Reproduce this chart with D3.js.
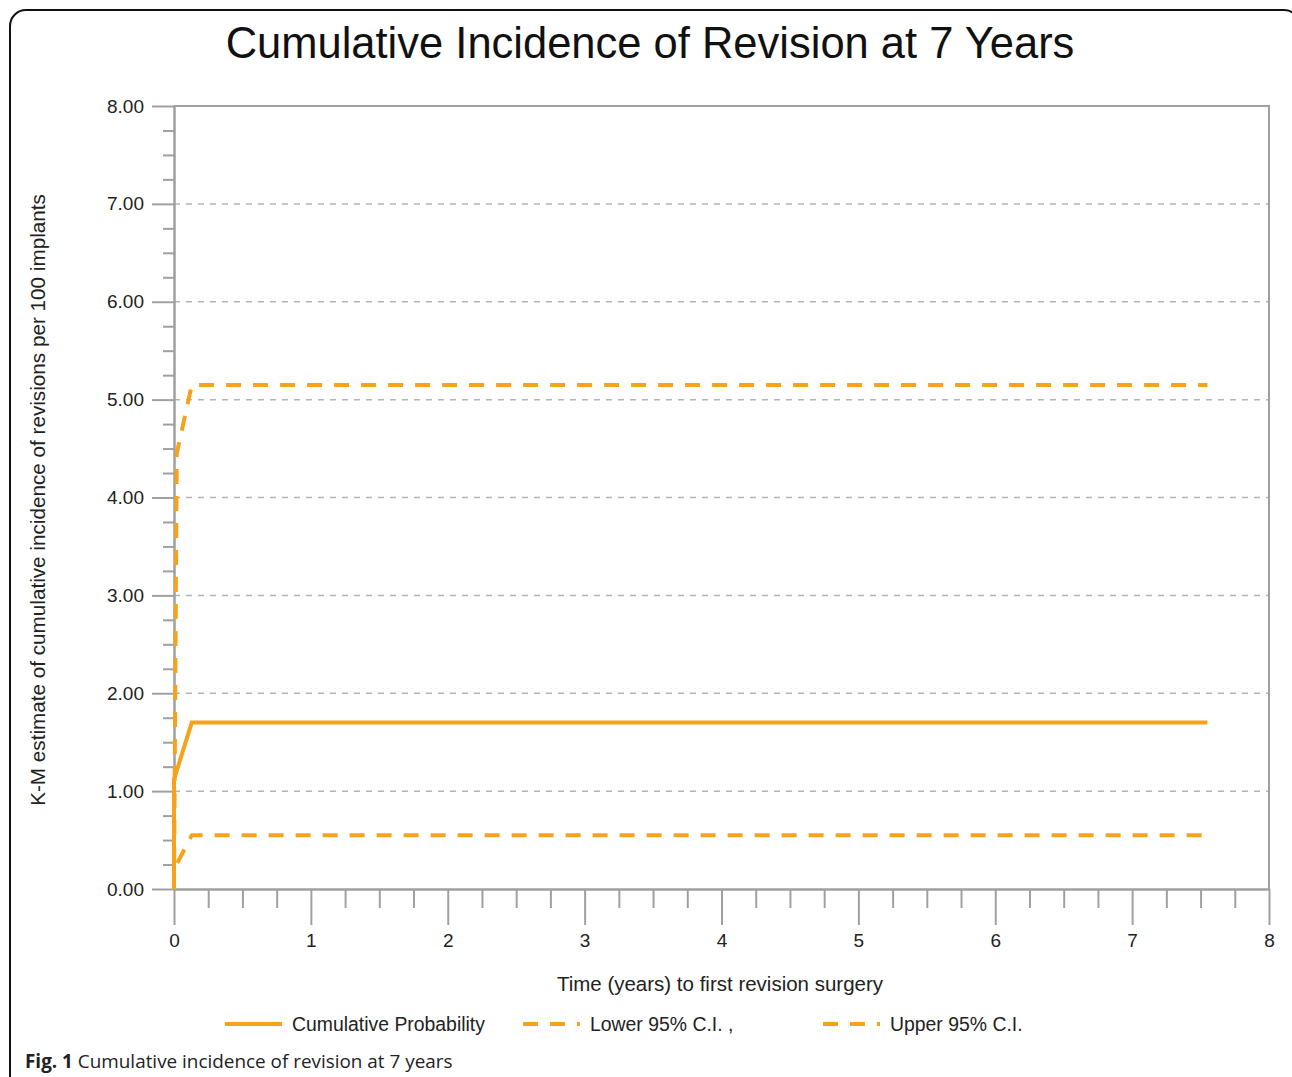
<!DOCTYPE html>
<html>
<head>
<meta charset="utf-8">
<script src="https://cdn.jsdelivr.net/npm/d3@7"></script>
<style>
  html, body { margin: 0; padding: 0; background: #fff; }
  svg { display: block; }
</style>
</head>
<body>
<svg id="chart" width="1292" height="1077"></svg>
<script>
// Kaplan-Meier cumulative incidence of revision (per 100 implants)
const cumulativeTime  = [0, 0, 0.13, 7.55];
const cumulativeValue = [0, 1.12, 1.70, 1.70];
const lowerTime  = [0, 0, 0.13, 7.55];
const lowerValue = [0, 0.20, 0.55, 0.55];
const upperTime  = [0, 0.02, 0.13, 7.55];
const upperValue = [0, 4.45, 5.15, 5.15];

const xTicks = [0, 1, 2, 3, 4, 5, 6, 7, 8];
const yTicks = [0, 1, 2, 3, 4, 5, 6, 7, 8];
const gridValues = [1, 2, 3, 4, 5, 6, 7];
const seriesNames = ["Cumulative Probability", "Lower 95% C.I. ,", "Upper 95% C.I."];

const ORANGE = "#f7a21b";
const AXIS = "#a0a0a0";

const svg = d3.select("#chart");

// outer figure frame
svg.append("rect")
  .attr("x", 10).attr("y", 10)
  .attr("width", 1290).attr("height", 1100)
  .attr("rx", 16).attr("ry", 16)
  .attr("fill", "none").attr("stroke", "#111").attr("stroke-width", 2);

// title
svg.append("text")
  .attr("x", 650).attr("y", 58)
  .attr("text-anchor", "middle")
  .attr("font-family", "Liberation Sans, Arial, sans-serif")
  .attr("font-size", 43.5)
  .attr("fill", "#111")
  .text("Cumulative Incidence of Revision at 7 Years");

const x = d3.scaleLinear().domain([0, 8]).range([174, 1269]);
const y = d3.scaleLinear().domain([0, 8]).range([889, 106]);

// horizontal dashed grid
svg.append("g").selectAll("line")
  .data(gridValues).join("line")
  .attr("x1", x(0)).attr("x2", x(8))
  .attr("y1", d => y(d)).attr("y2", d => y(d))
  .attr("stroke", "#b4b4b4").attr("stroke-width", 1.5)
  .attr("stroke-dasharray", "6,6");

// plot frame: top and right edges
svg.append("path")
  .attr("d", `M${x(0)},${y(8)}H${x(8)}V${y(0)}`)
  .attr("fill", "none").attr("stroke", AXIS).attr("stroke-width", 2);

const fontAxis = "Liberation Sans, Arial, sans-serif";

function styleAxis(g) {
  g.select(".domain").attr("stroke", AXIS).attr("stroke-width", 2);
  g.selectAll(".tick line").attr("stroke", AXIS).attr("stroke-width", 2);
  g.selectAll(".tick text")
    .attr("fill", "#222")
    .attr("font-family", fontAxis)
    .attr("font-size", 19);
}

// minor ticks every 0.25
const minor = d3.range(0, 8.001, 0.25).filter(v => Math.abs(v - Math.round(v)) > 1e-9);

svg.append("g")
  .attr("transform", `translate(${x(0)},0)`)
  .call(d3.axisLeft(y).tickValues(minor).tickSize(11).tickSizeOuter(0).tickFormat(""))
  .call(styleAxis);
svg.append("g")
  .attr("transform", `translate(0,${y(0)})`)
  .call(d3.axisBottom(x).tickValues(minor).tickSize(19).tickSizeOuter(0).tickFormat(""))
  .call(styleAxis);

// major ticks with labels
svg.append("g")
  .attr("transform", `translate(${x(0)},0)`)
  .call(d3.axisLeft(y).tickValues(yTicks).tickSize(22).tickSizeOuter(0)
    .tickPadding(8).tickFormat(d3.format(".2f")))
  .call(styleAxis);
svg.append("g")
  .attr("transform", `translate(0,${y(0)})`)
  .call(d3.axisBottom(x).tickValues(xTicks).tickSize(36).tickSizeOuter(0)
    .tickPadding(9).tickFormat(d3.format("d")))
  .call(styleAxis);

// axis titles
svg.append("text")
  .attr("x", 720).attr("y", 991)
  .attr("text-anchor", "middle")
  .attr("font-family", fontAxis).attr("font-size", 20.5).attr("fill", "#222")
  .text("Time (years) to first revision surgery");

svg.append("text")
  .attr("transform", "translate(45,500) rotate(-90)")
  .attr("text-anchor", "middle")
  .attr("font-family", fontAxis).attr("font-size", 20.7).attr("fill", "#222")
  .text("K-M estimate of cumulative incidence of revisions per 100 implants");

// series
const line = d3.line().x(d => x(d[0])).y(d => y(d[1]));
const series = [
  { pts: d3.zip(cumulativeTime, cumulativeValue), dash: null },
  { pts: d3.zip(lowerTime, lowerValue), dash: "15,12" },
  { pts: d3.zip(upperTime, upperValue), dash: "15,12" }
];
svg.append("g").selectAll("path")
  .data(series).join("path")
  .attr("d", d => line(d.pts))
  .attr("fill", "none")
  .attr("stroke", ORANGE)
  .attr("stroke-width", 4)
  .attr("stroke-dasharray", d => d.dash);

// legend
const legendX = [225, 523, 823];
const legend = svg.append("g").selectAll("g")
  .data(seriesNames).join("g")
  .attr("transform", (d, i) => `translate(${legendX[i]},1024)`);
legend.append("line")
  .attr("x1", 0).attr("x2", 57).attr("y1", 0).attr("y2", 0)
  .attr("stroke", ORANGE).attr("stroke-width", 4)
  .attr("stroke-dasharray", (d, i) => i === 0 ? null : "15,12");
legend.append("text")
  .attr("x", 67).attr("y", 7)
  .attr("font-family", fontAxis).attr("font-size", 19.4).attr("fill", "#222")
  .text(d => d);

// figure caption
const cap = svg.append("text")
  .attr("x", 25).attr("y", 1068)
  .attr("font-family", "Open Sans, Noto Sans, sans-serif")
  .attr("font-size", 18.9).attr("fill", "#222");
cap.append("tspan").attr("font-weight", "bold").text("Fig. 1");
cap.append("tspan").text(" Cumulative incidence of revision at 7 years");
</script>
</body>
</html>
